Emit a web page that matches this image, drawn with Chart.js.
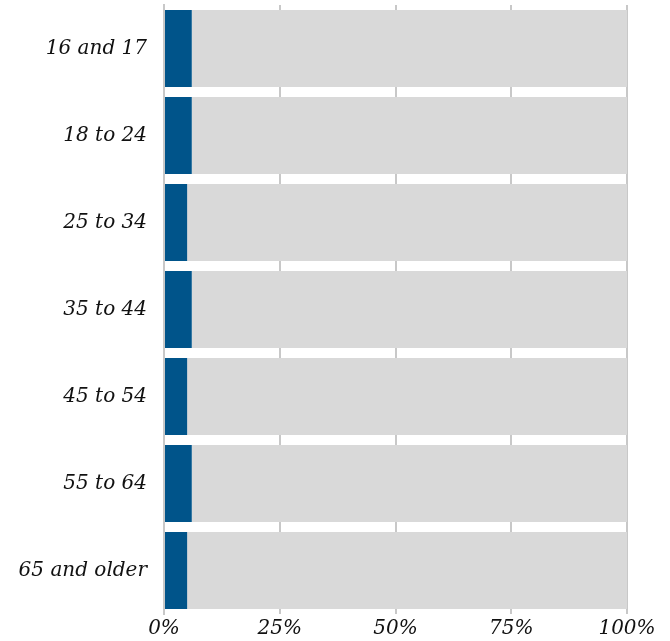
<!DOCTYPE html>
<html>
<head>
<meta charset="utf-8">
<script src="https://cdn.jsdelivr.net/npm/chart.js@4"></script>
<style>
  html, body { margin: 0; padding: 0; background: #fff; }
  #wrap { width: 670px; height: 641px; }
</style>
</head>
<body>
<div id="wrap"><canvas id="grafico"></canvas></div>
<script>
// dados
const faixas = ["16 and 17", "18 to 24", "25 to 34", "35 to 44", "45 to 54", "55 to 64", "65 and older"];
const parte = [6, 6, 5, 6, 5, 6, 5];
const resto = [94, 94, 95, 94, 95, 94, 95];
const ticksX = [0, 25, 50, 75, 100];

const fonte = { family: "'DejaVu Serif', serif", style: "italic", size: 20 };

const config = {
  type: "bar",
  data: {
    labels: faixas,
    datasets: [
      { data: parte, backgroundColor: "#00548a", borderWidth: 0 },
      { data: resto, backgroundColor: "#d9d9d9", borderWidth: 0 }
    ]
  },
  options: {
    indexAxis: "y",
    responsive: true,
    maintainAspectRatio: false,
    animation: false,
    barPercentage: 0.885,
    categoryPercentage: 1,
    layout: { padding: { top: 5, right: 43, bottom: 0, left: 0 } },
    plugins: { legend: { display: false }, tooltip: { enabled: false } },
    scales: {
      x: {
        stacked: true,
        min: 0,
        max: 100,
        afterBuildTicks: function (eixo) {
          eixo.ticks = ticksX.map(v => ({ value: v }));
        },
        afterFit: function (eixo) { eixo.height = 27; },
        ticks: {
          color: "#111",
          font: fonte,
          padding: 3,
          maxRotation: 0,
          callback: v => v + "%"
        },
        grid: { color: "#c8c8c8", lineWidth: 2, drawTicks: false },
        border: { display: false }
      },
      y: {
        stacked: true,
        afterFit: function (eixo) {
          eixo.width = 164;
          eixo.paddingTop = 0;
          eixo.paddingBottom = 0;
        },
        ticks: { color: "#111", font: fonte, padding: 17 },
        grid: { display: false, drawTicks: false },
        border: { display: true, color: "#c8c8c8", width: 2 }
      }
    }
  }
};

var meuGrafico = new Chart(document.getElementById("grafico"), config);
</script>
</body>
</html>
